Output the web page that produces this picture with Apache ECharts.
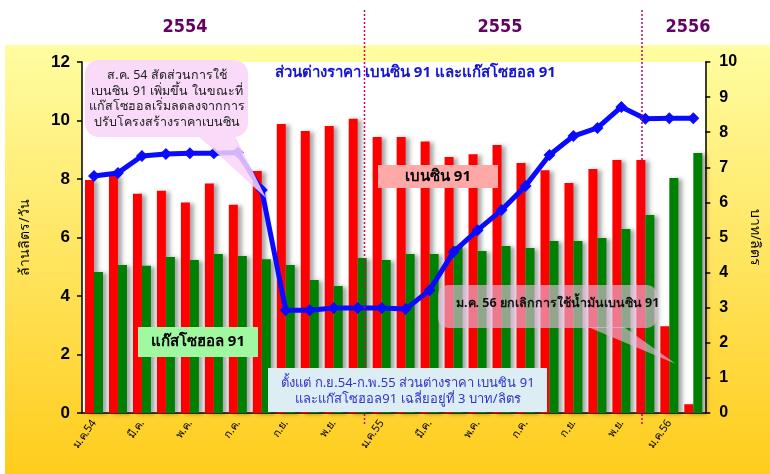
<!DOCTYPE html>
<html><head><meta charset="utf-8">
<script src="https://cdn.jsdelivr.net/npm/echarts@6/dist/echarts.min.js"></script>
<style>html,body{margin:0;padding:0;background:#fff}#c{width:770px;height:474px}</style>
</head><body><div id="c"></div>
<script>
const months = ['ม.ค.54','ก.พ.','มี.ค.','เม.ย.','พ.ค.','มิ.ย.','ก.ค.','ส.ค.','ก.ย.','ต.ค.','พ.ย.','ธ.ค.',
  'ม.ค.55','ก.พ.','มี.ค.','เม.ย.','พ.ค.','มิ.ย.','ก.ค.','ส.ค.','ก.ย.','ต.ค.','พ.ย.','ธ.ค.','ม.ค.56','ก.พ.'];
const benzin91 = [7.97,8.1,7.5,7.6,7.2,7.85,7.12,8.27,9.88,9.64,9.81,10.06,9.44,9.44,9.28,8.75,8.85,9.16,8.55,8.3,7.86,8.34,8.65,8.65,2.97,0.3];
const gasohol91 = [4.82,5.06,5.03,5.33,5.23,5.44,5.37,5.26,5.06,4.55,4.34,5.3,5.23,5.44,5.44,5.71,5.54,5.71,5.64,5.88,5.88,5.98,6.29,6.77,8.03,8.89];
const priceDiff = [6.75,6.84,7.32,7.38,7.4,7.4,7.42,6.35,2.93,2.93,2.99,2.99,2.99,2.96,3.5,4.59,5.21,5.78,6.47,7.35,7.89,8.12,8.72,8.38,8.4,8.4];
const leftTicks = {min:0,max:12,interval:2};
const rightTicks = {min:0,max:10,interval:1};
const years = ['2554','2555','2556'];

const FONT = "Tahoma, 'Noto Sans', 'DejaVu Sans', sans-serif";
const chart = echarts.init(document.getElementById('c'), null, {renderer:'canvas'});
const shadow = {shadowColor:'rgba(0,0,0,0.35)', shadowBlur:4, shadowOffsetX:4, shadowOffsetY:1};
chart.setOption({
  animation:false,
  backgroundColor:'#fff',
  grid:{left:82,right:59,top:62,bottom:61,show:true,backgroundColor:'#fff',borderWidth:0},
  xAxis:{type:'category',data:months,boundaryGap:true,
    axisLine:{lineStyle:{color:'#000',width:1.5}},
    axisTick:{interval:0,length:5,lineStyle:{color:'#000',width:1.5}},
    axisLabel:{interval:1,rotate:55,color:'#000',fontSize:11,fontFamily:FONT,margin:8}},
  yAxis:[
    {type:'value',min:leftTicks.min,max:leftTicks.max,interval:leftTicks.interval,
     name:'ล้านลิตร/วัน',nameLocation:'middle',nameGap:50,nameRotate:90,
     nameTextStyle:{color:'#000',fontSize:14,fontFamily:FONT},
     axisLine:{show:true,lineStyle:{color:'#000',width:1.5}},
     axisTick:{show:true,length:5,lineStyle:{color:'#000',width:1.5}},
     splitLine:{show:false},
     axisLabel:{color:'#000',fontSize:17,fontWeight:'bold',fontFamily:'Arial, Liberation Sans, sans-serif',margin:12}},
    {type:'value',position:'right',min:rightTicks.min,max:rightTicks.max,interval:rightTicks.interval,
     name:'บาท/ลิตร',nameLocation:'middle',nameGap:40,nameRotate:-90,
     nameTextStyle:{color:'#000',fontSize:14,fontFamily:FONT},
     axisLine:{show:true,lineStyle:{color:'#000',width:1.5}},
     axisTick:{show:true,length:5,lineStyle:{color:'#000',width:1.5}},
     splitLine:{show:false},
     axisLabel:{color:'#000',fontSize:16,fontWeight:'bold',fontFamily:'Arial, Liberation Sans, sans-serif',margin:14}}
  ],
  series:[
    {type:'bar',name:'เบนซิน 91',data:benzin91,barWidth:9,barGap:'0%',itemStyle:Object.assign({color:'#FF0000'},shadow),z:2},
    {type:'bar',name:'แก๊สโซฮอล 91',data:gasohol91,barWidth:9,barGap:'0%',itemStyle:Object.assign({color:'#008000'},shadow),z:2},
    {type:'line',name:'ส่วนต่าง',yAxisIndex:1,data:priceDiff,symbol:'diamond',symbolSize:12,
     lineStyle:{color:'#0A0AFF',width:5},itemStyle:{color:'#0A0AFF'},z:5}
  ]
});

const g = [];
// yellow backdrop behind whole chart
g.push({type:'rect',z:-10,silent:true,shape:{x:5,y:45,width:765,height:429},
  style:{fill:new echarts.graphic.LinearGradient(0,0,0,1,[{offset:0,color:'#FFFDA2'},{offset:1,color:'#FFCC1C'}])}});
// year labels
const yearX = [185,500,688];
years.forEach((t,i)=>g.push({type:'text',z:50,style:{text:t,x:yearX[i],y:27,align:'center',verticalAlign:'middle',
  font:"bold 18px 'DejaVu Sans Condensed', Tahoma, sans-serif",fill:'#660066',shadowColor:'rgba(0,0,0,0.35)',shadowBlur:2,shadowOffsetX:2,shadowOffsetY:2}}));
// dotted year dividers
[364.5,642].forEach(x=>g.push({type:'line',z:40,shape:{x1:x,y1:10,x2:x,y2:425},style:{stroke:'#CC0066',lineWidth:1.5,lineDash:[2,2]}}));
// title
g.push({type:'text',z:50,style:{text:'ส่วนต่างราคา เบนซิน 91 และแก๊สโซฮอล 91',x:275,y:73,verticalAlign:'middle',
  font:'bold 15px '+FONT,fill:'#1414D4',shadowColor:'rgba(0,0,0,0.3)',shadowBlur:1,shadowOffsetX:1,shadowOffsetY:1}});
// bubble 1
g.push({type:'polygon',z:45,shape:{points:[[196,134],[234,134],[266,198]]},style:{fill:'rgba(248,212,248,0.85)'}});
g.push({type:'rect',z:46,shape:{x:85,y:60,width:163,height:77,r:14},style:{fill:'#F9DAF9'}});
g.push({type:'text',z:47,style:{text:'ส.ค. 54 สัดส่วนการใช้\nเบนซิน 91 เพิ่มขึ้น ในขณะที่\nแก๊สโซฮอลเริ่มลดลงจากการ\nปรับโครงสร้างราคาเบนซิน',
  x:167,y:99,align:'center',verticalAlign:'middle',lineHeight:15.5,font:'12.5px '+FONT,fill:'#222'}});
// benzin label
g.push({type:'rect',z:46,shape:{x:378,y:165,width:120,height:23},style:{fill:'#FFA8A8'}});
g.push({type:'text',z:47,style:{text:'เบนซิน 91',x:438,y:177,align:'center',verticalAlign:'middle',font:'bold 15px '+FONT,fill:'#000',
  shadowColor:'rgba(255,255,255,0.8)',shadowOffsetX:1,shadowOffsetY:1}});
// gasohol label
g.push({type:'rect',z:46,shape:{x:138,y:327,width:120,height:30},style:{fill:'#A0F8A0'}});
g.push({type:'text',z:47,style:{text:'แก๊สโซฮอล 91',x:198,y:342,align:'center',verticalAlign:'middle',font:'bold 15px '+FONT,fill:'#000',
  shadowColor:'rgba(255,255,255,0.8)',shadowOffsetX:1,shadowOffsetY:1}});
// blue note
g.push({type:'rect',z:46,shape:{x:268,y:368,width:279,height:44},style:{fill:'#DCEEF3'}});
g.push({type:'text',z:47,style:{text:'ตั้งแต่ ก.ย.54-ก.พ.55 ส่วนต่างราคา เบนซิน 91\nและแก๊สโซฮอล91 เฉลี่ยอยู่ที่ 3 บาท/ลิตร',
  x:408,y:391,align:'center',verticalAlign:'middle',lineHeight:16,font:'13px '+FONT,fill:'#3333CC'}});
// bubble 2
g.push({type:'polygon',z:45,shape:{points:[[588,327],[624,327],[676,364]]},style:{fill:'rgba(230,190,222,0.63)'}});
g.push({type:'rect',z:46,shape:{x:438,y:285,width:219,height:43,r:10},style:{fill:'rgba(230,190,222,0.63)'}});
g.push({type:'text',z:47,style:{text:'ม.ค. 56 ยกเลิกการใช้น้ำมันเบนซิน 91',x:456,y:303,verticalAlign:'middle',font:'bold 12.5px '+FONT,fill:'#111'}});
chart.setOption({graphic:g});
</script></body></html>
